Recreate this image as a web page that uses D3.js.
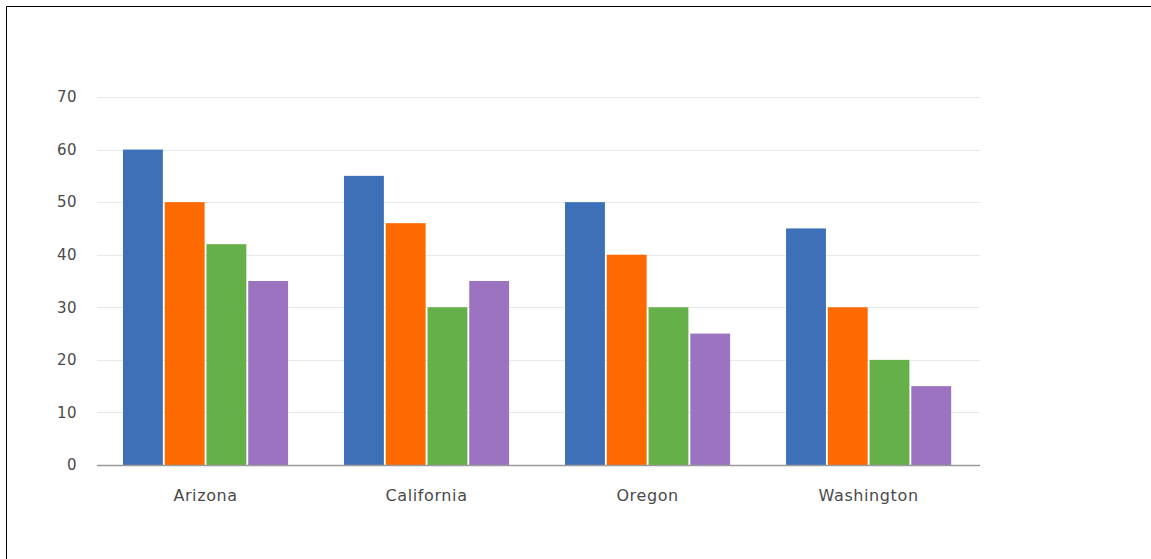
<!DOCTYPE html>
<html>
<head>
<meta charset="utf-8">
<script src="https://cdn.jsdelivr.net/npm/d3@7"></script>
<style>
  html, body { margin: 0; padding: 0; background: #fff; }
  svg { display: block; }
</style>
</head>
<body>
<svg id="chart" width="1151" height="559"></svg>
<script>
const categories = ["Arizona", "California", "Oregon", "Washington"];
const seriesNames = ["Series 1", "Series 2", "Series 3", "Series 4"];
const series1 = [60, 55, 50, 45];
const series2 = [50, 46, 40, 30];
const series3 = [42, 30, 30, 20];
const series4 = [35, 35, 25, 15];
const yTicks = [0, 10, 20, 30, 40, 50, 60, 70];
const colors = ["#3d70b6", "#ff6a00", "#65b048", "#9b73c1"];

const seriesValues = [series1, series2, series3, series4];

(function () {
const svg = d3.select("#chart");
const plotLeft = 97, plotRight = 980, plotTop = 97, plotBottom = 465;
const fontFam = "Tahoma, 'DejaVu Sans', sans-serif";

// frame border (top and left)
svg.append("line").attr("x1", 6.5).attr("x2", 1151).attr("y1", 6.5).attr("y2", 6.5)
  .attr("stroke", "#000").attr("stroke-width", 1);
svg.append("line").attr("x1", 6.5).attr("x2", 6.5).attr("y1", 6.5).attr("y2", 559)
  .attr("stroke", "#000").attr("stroke-width", 1);

const y = d3.scaleLinear().domain([0, 70]).range([plotBottom, plotTop]);
const x0 = d3.scaleBand().domain(categories).range([plotLeft, plotRight])
  .paddingInner(0.253).paddingOuter(0.124).align(0.474);
const x1 = d3.scaleBand().domain(seriesNames).range([0, x0.bandwidth()]).paddingInner(0.045);

// gridlines
svg.append("g").selectAll("line").data(yTicks.filter(t => t > 0)).join("line")
  .attr("x1", plotLeft).attr("x2", plotRight)
  .attr("y1", d => Math.round(y(d)) + 0.5).attr("y2", d => Math.round(y(d)) + 0.5)
  .attr("stroke", "#e6e9ee").attr("stroke-width", 1);

// y axis labels
const yAxis = d3.axisLeft(y).tickValues(yTicks).tickSize(0).tickPadding(0);
const ya = svg.append("g").attr("transform", `translate(77,0)`).call(yAxis);
ya.select(".domain").remove();
ya.selectAll("text").attr("font-family", fontFam)
  .attr("font-size", "15px").attr("fill", "#4a4a4a").attr("dy", "0.32em")
  .attr("letter-spacing", "0.5px");

// bars
const groups = svg.append("g").selectAll("g").data(categories).join("g")
  .attr("transform", d => `translate(${x0(d)},0)`);
groups.selectAll("rect").data((c, ci) => seriesNames.map((s, si) => ({ s, si, v: seriesValues[si][ci] })))
  .join("rect")
  .attr("x", d => x1(d.s))
  .attr("width", x1.bandwidth())
  .attr("y", d => y(d.v))
  .attr("height", d => y(0) - y(d.v))
  .attr("fill", d => colors[d.si]);

// baseline
svg.append("line").attr("x1", plotLeft).attr("x2", plotRight)
  .attr("y1", plotBottom + 0.5).attr("y2", plotBottom + 0.5)
  .attr("stroke", "#9a9a9a").attr("stroke-width", 1.5);

// x axis labels
const xAxis = d3.axisBottom(x0).tickSize(0).tickPadding(0);
const xa = svg.append("g").attr("transform", `translate(0,${plotBottom + 30})`).call(xAxis);
xa.select(".domain").remove();
xa.selectAll("text").attr("font-family", fontFam)
  .attr("font-size", "16px").attr("fill", "#4a4a4a").attr("dy", "0.38em")
  .attr("letter-spacing", "0.6px");
})();
</script>
</body>
</html>
